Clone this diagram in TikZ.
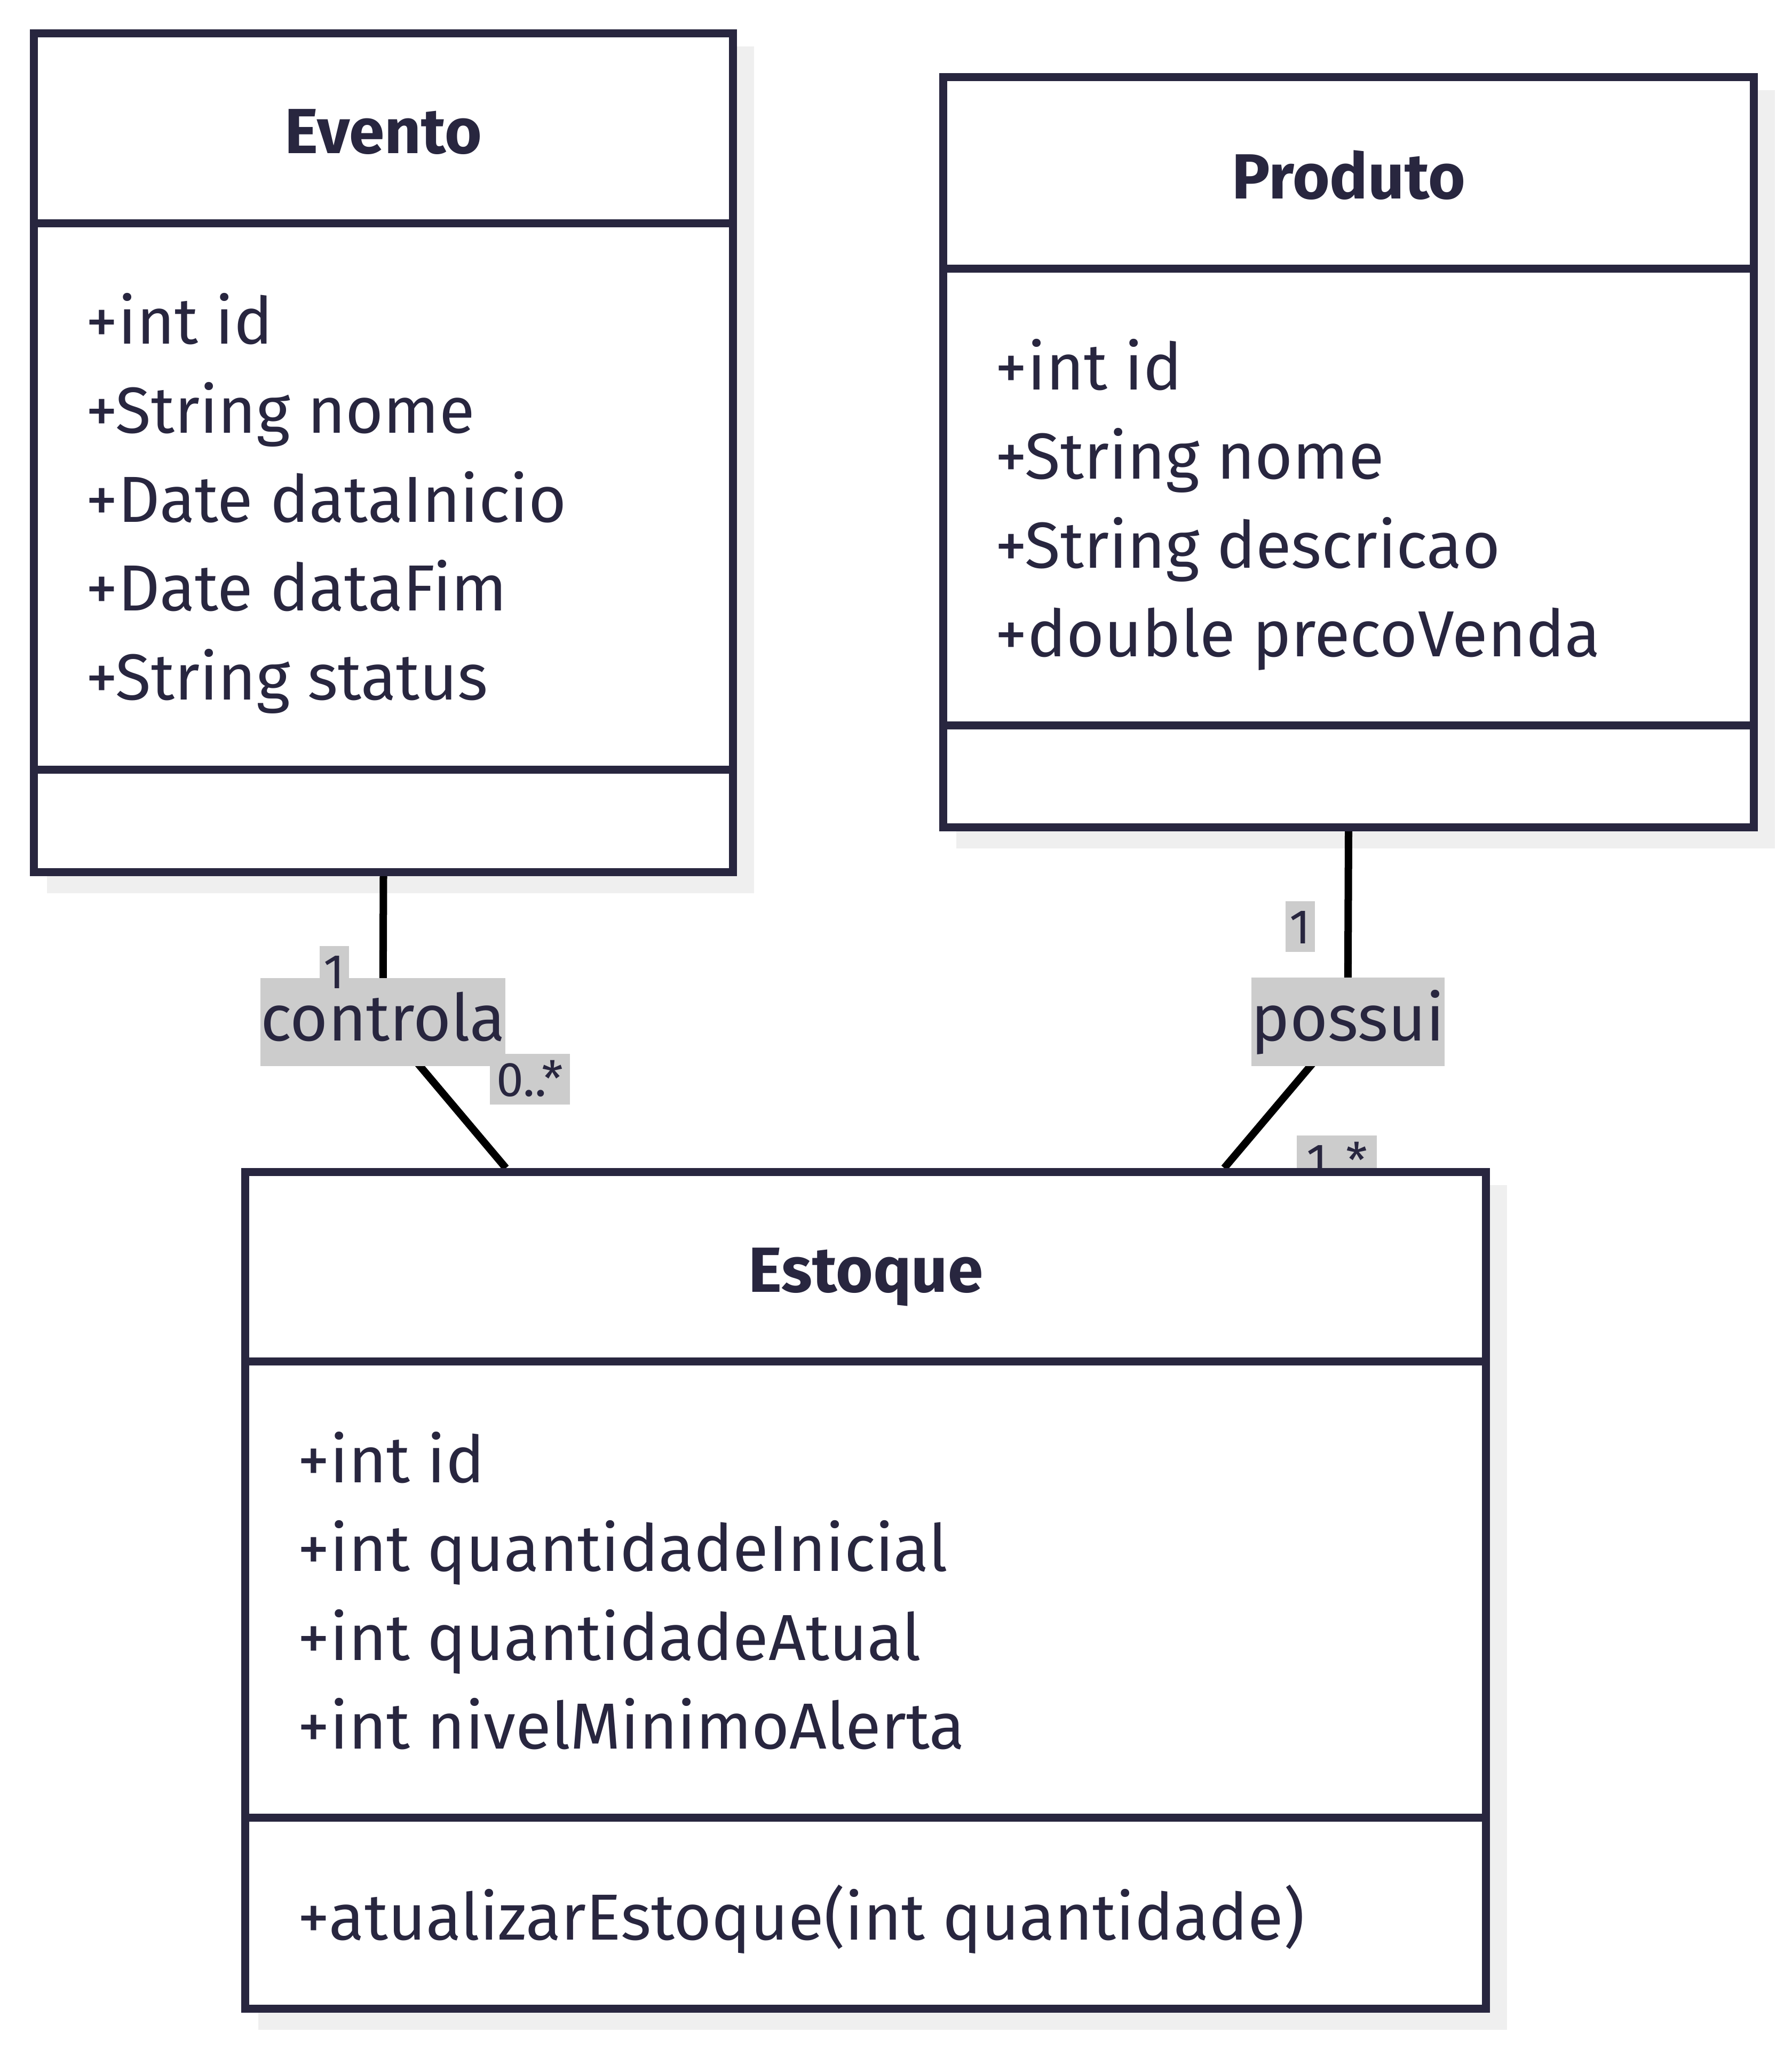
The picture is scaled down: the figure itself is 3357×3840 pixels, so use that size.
\documentclass[tikz,border=0pt]{standalone}
\usepackage{fontspec}
\setmainfont{Fira Sans}
\definecolor{ink}{HTML}{28263F}
\definecolor{lbl}{HTML}{CCCCCC}
\definecolor{shade}{HTML}{EFEFEF}
\pgfdeclarelayer{shadowlayer}
\pgfdeclarelayer{connlayer}
\pgfdeclarelayer{labellayer}
\pgfsetlayers{shadowlayer,connlayer,labellayer,main}
\begin{document}
\begin{tikzpicture}[x=0.01cm,y=-0.01cm,
 classbox/.style={draw=ink, line width=0.15cm, fill=white, inner sep=0pt, rectangle},
 divider/.style={draw=ink, line width=0.15cm},
 shadowbox/.style={fill=shade},
 attr/.style={anchor=base west, inner sep=0pt, text=ink, font=\fontsize{34.7}{40}\selectfont},
 classtitle/.style={anchor=base, inner sep=0pt, text=ink, font=\fontsize{34}{40}\selectfont\bfseries},
 conn/.style={draw=black, line width=0.14cm, rounded corners=0.5cm},
 rel/.style={fill=lbl, inner sep=0pt, text=ink, font=\fontsize{34.7}{40}\selectfont, text height=0.88cm, text depth=0.18cm, minimum height=1.65cm},
 mult/.style={fill=lbl, inner sep=0pt, text=ink, font=\fontsize{25.9}{30}\selectfont, text height=0.66cm, text depth=0.02cm, minimum height=0.95cm},
]
\useasboundingbox (0,0) rectangle (3357,3840);

% shadows
\begin{pgfonlayer}{shadowlayer}
\fill[shadowbox] (88,87) rectangle (1413,1674);
\fill[shadowbox] (1792,169) rectangle (3326,1590);
\fill[shadowbox] (484,2221) rectangle (2824,3804);
\end{pgfonlayer}

% class boxes
\node[classbox, minimum width=13.09cm, minimum height=15.71cm] (Evento) at (718.5,848.5) {};
\node[classbox, minimum width=15.18cm, minimum height=14.05cm] (Produto) at (2527,847.5) {};
\node[classbox, minimum width=23.24cm, minimum height=15.67cm] (Estoque) at (1622,2980.5) {};

% dividers
\draw[divider] (64,419) -- (1373,419);
\draw[divider] (64,1442) -- (1373,1442);
\draw[divider] (1768,504) -- (3286,504);
\draw[divider] (1768,1359) -- (3286,1359);
\draw[divider] (460,2551) -- (2784,2551);
\draw[divider] (460,3406) -- (2784,3406);

% titles
\node[classtitle] (tEvento) at (718.5,288) {Evento};
\node[classtitle] (tProduto) at (2527,373) {Produto};
\node[classtitle] (tEstoque) at (1622,2421) {Estoque};

% Evento attributes
\node[attr] (e1) at (160,645) {+int id};
\node[attr] (e2) at (160,811.5) {+String nome};
\node[attr] (e3) at (160,978) {+Date dataInicio};
\node[attr] (e4) at (160,1144.5) {+Date dataFim};
\node[attr] (e5) at (160,1311) {+String status};

% Produto attributes
\node[attr] (p1) at (1864,731) {+int id};
\node[attr] (p2) at (1864,897.5) {+String nome};
\node[attr] (p3) at (1864,1064) {+String descricao};
\node[attr] (p4) at (1864,1230.5) {+double precoVenda};

% Estoque attributes
\node[attr] (s1) at (557,2778) {+int id};
\node[attr] (s2) at (557,2944.5) {+int quantidadeInicial};
\node[attr] (s3) at (557,3111) {+int quantidadeAtual};
\node[attr] (s4) at (557,3277.5) {+int nivelMinimoAlerta};
\node[attr] (s5) at (557,3635) {+atualizarEstoque(int quantidade)};

% labels
\begin{pgfonlayer}{labellayer}
\node[rel, minimum width=4.59cm] (rel1) at (717.5,1915.5) {controla};
\node[mult, minimum width=0.55cm] (m1) at (626.5,1820.5) {1};
\node[mult, minimum width=1.50cm] (m2) at (993,2022.5) {0..*};
\node[mult, minimum width=0.55cm] (m3) at (2436.5,1736.5) {1};
\node[rel, minimum width=3.57cm] (rel2) at (2525.5,1915) {possui};
\node[mult, minimum width=1.50cm] (m4) at (2505,2175.5) {1..*};
\end{pgfonlayer}

% connectors
\begin{pgfonlayer}{connlayer}
\draw[conn] (Evento.south) -- (rel1.center) -- (948,0 |- Estoque.north);
\draw[conn] (Produto.south) -- (rel2.center) -- (2294,0 |- Estoque.north);
\end{pgfonlayer}
\end{tikzpicture}
\end{document}
